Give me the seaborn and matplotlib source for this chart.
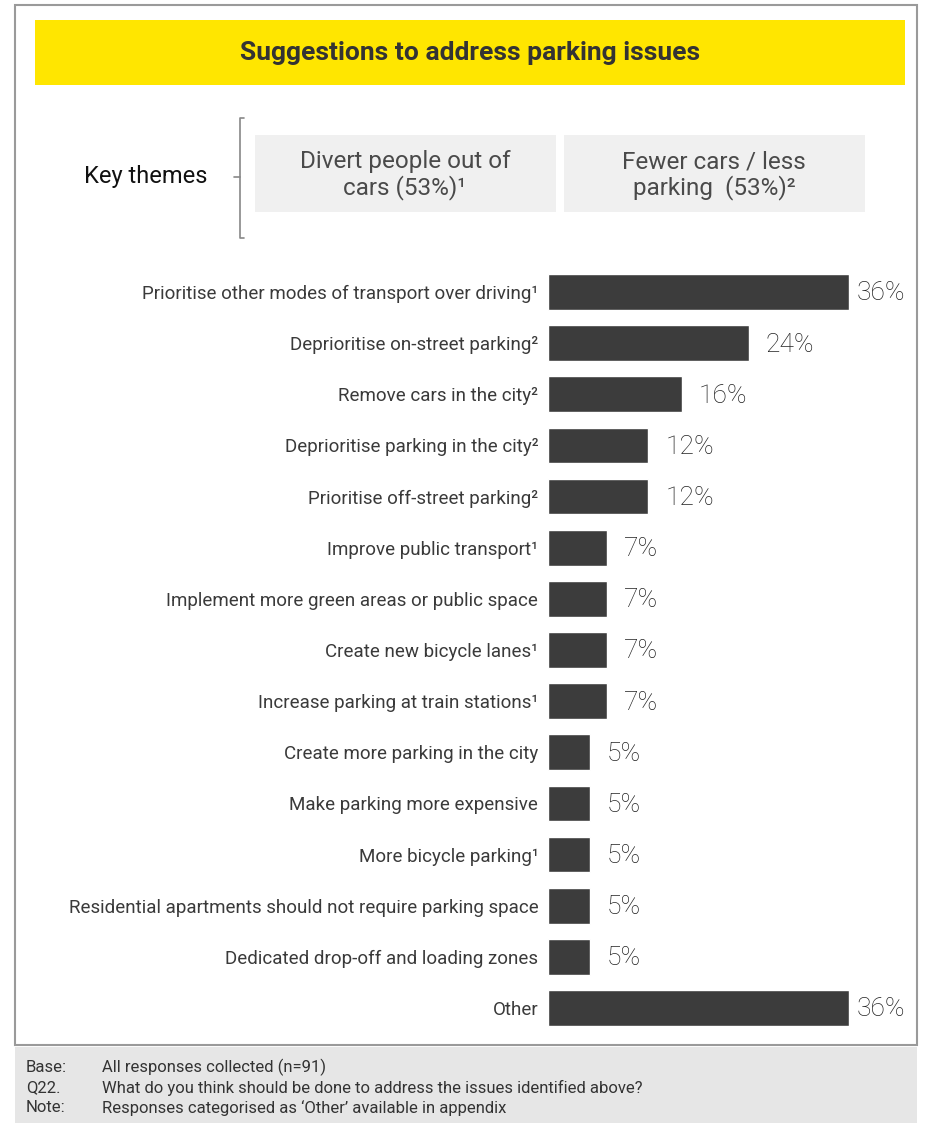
import pandas as pd
import matplotlib.pyplot as plt
import seaborn as sns
from matplotlib.patches import Rectangle
from matplotlib.lines import Line2D

categories = [
    "Prioritise other modes of transport over driving\u00b9",
    "Deprioritise on-street parking\u00b2",
    "Remove cars in the city\u00b2",
    "Deprioritise parking in the city\u00b2",
    "Prioritise off-street parking\u00b2",
    "Improve public transport\u00b9",
    "Implement more green areas or public space",
    "Create new bicycle lanes\u00b9",
    "Increase parking at train stations\u00b9",
    "Create more parking in the city",
    "Make parking more expensive",
    "More bicycle parking\u00b9",
    "Residential apartments should not require parking space",
    "Dedicated drop-off and loading zones",
    "Other",
]
values = [36, 24, 16, 12, 12, 7, 7, 7, 7, 5, 5, 5, 5, 5, 36]
themes = ["Divert people out of\ncars (53%)\u00b9", "Fewer cars / less\nparking  (53%)\u00b2"]
footer_keys = ["Base:", "Q22.", "Note:"]
footer_texts = [
    "All responses collected (n=91)",
    "What do you think should be done to address the issues identified above?",
    "Responses categorised as \u2018Other\u2019 available in appendix",
]

sns.set_style("white")
plt.rcParams["font.family"] = ["Roboto", "DejaVu Sans"]

W, H = 927, 1123
fig = plt.figure(figsize=(W / 100, H / 100), dpi=100)

# background layer in pixel coords (y down)
bg = fig.add_axes([0, 0, 1, 1])
bg.set_xlim(0, W)
bg.set_ylim(H, 0)
bg.axis("off")

bg.add_patch(Rectangle((15, 5), 902, 1040, fill=False, ec="#9a9a9a", lw=1.5))
bg.add_patch(Rectangle((15, 1047), 902, 76, fc="#e6e6e6", ec="none"))
bg.add_patch(Rectangle((35, 20), 870, 65, fc="#ffe600", ec="none"))
bg.text(470, 53, "Suggestions to address parking issues", ha="center", va="center",
        fontsize=19, fontweight="bold", color="#333333")

bg.text(84, 176, "Key themes", ha="left", va="center", fontsize=17, color="#111111")
bg.add_line(Line2D([244, 240, 240, 244], [118, 118, 238, 238], color="#888888", lw=1.2))
bg.add_line(Line2D([234, 240], [177, 177], color="#888888", lw=1.2))
for x0, t in zip([255, 564], themes):
    bg.add_patch(Rectangle((x0, 135), 301, 77, fc="#f0f0f0", ec="none"))
    bg.text(x0 + 150, 175, t, ha="center", va="center", fontsize=17.5,
            color="#4a4a4a", linespacing=1.1)

for i, (k, t) in enumerate(zip(footer_keys, footer_texts)):
    y = 1067 + i * 20.5
    bg.text(26, y, k, ha="left", va="center", fontsize=12, color="#333333")
    bg.text(102, y, t, ha="left", va="center", fontsize=12, color="#333333")

# bar chart axes
left, right = 548, 849
top, bottom = 266.4, 1033.6
ax = fig.add_axes([left / W, 1 - bottom / H, (right - left) / W, (bottom - top) / H])
df = pd.DataFrame({"label": categories, "value": values})
sns.barplot(data=df, x="value", y="label", orient="h", color="#3c3c3c",
            saturation=1, width=0.7, ax=ax)
ax.set_xlim(0, 36)
ax.set_ylim(len(categories) - 0.5, -0.5)
ax.set_xlabel("")
ax.set_ylabel("")
ax.set_xticks([])
ax.tick_params(axis="y", length=0, pad=7, labelsize=13.5, labelcolor="#3a3a3a")
for s in ax.spines.values():
    s.set_visible(False)
ax.patch.set_alpha(0)
vmax = max(values)
for i, v in enumerate(values):
    off = 8 if v == vmax else 17
    ax.annotate(f"{v}%", (v, i), xytext=(off * 0.72, -1), textcoords="offset points",
                ha="left", va="center", fontsize=19, fontweight="light",
                color="#222222", annotation_clip=False)

fig.savefig("out.png", dpi=100)
